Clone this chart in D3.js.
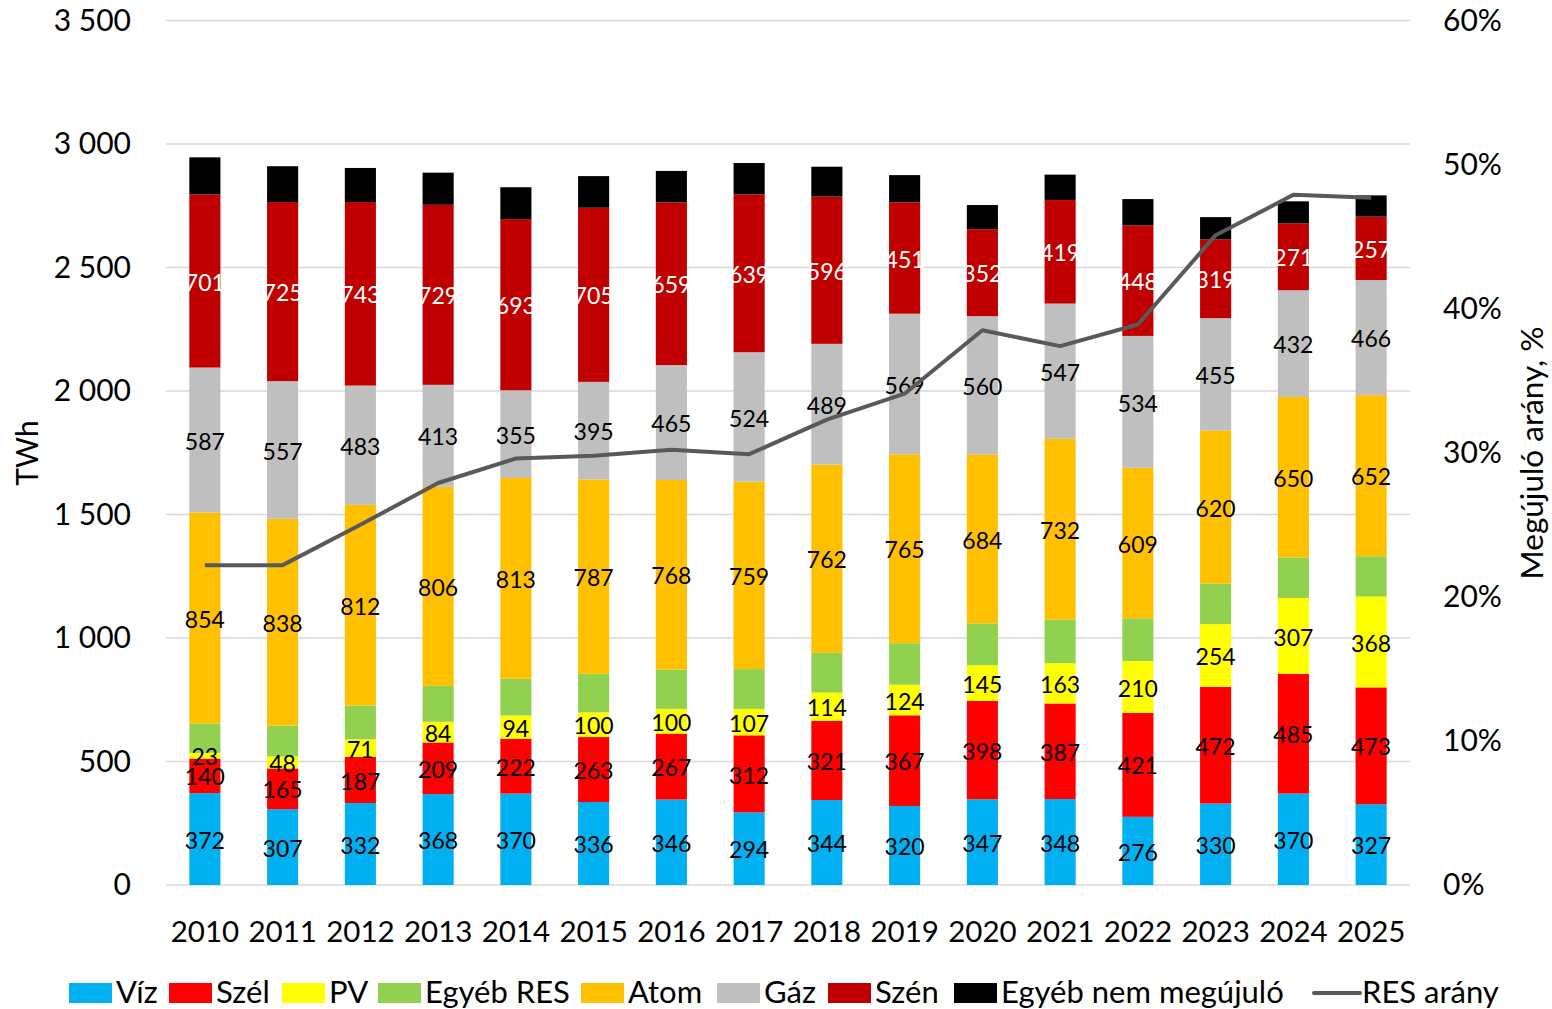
<!DOCTYPE html>
<html>
<head>
<meta charset="utf-8">
<script src="https://cdn.jsdelivr.net/npm/d3@7"></script>
<style>
  html, body { margin: 0; padding: 0; background: #fff; }
  svg { display: block; }
  text { font-family: Lato, "Open Sans", sans-serif; }
</style>
</head>
<body>
<svg id="chart" width="1552" height="1009"></svg>
<script>
const years = ["2010","2011","2012","2013","2014","2015","2016","2017","2018","2019","2020","2021","2022","2023","2024","2025"];
const viz      = [372,307,332,368,370,336,346,294,344,320,347,348,276,330,370,327];
const szel     = [140,165,187,209,222,263,267,312,321,367,398,387,421,472,485,473];
const pv       = [23,48,71,84,94,100,100,107,114,124,145,163,210,254,307,368];
const egyebRes = [119,125,137,145,149,156,159,161,161,168,169,177,173,164,164,163];
const atom     = [854,838,812,806,813,787,768,759,762,765,684,732,609,620,650,652];
const gaz      = [587,557,483,413,355,395,465,524,489,569,560,547,534,455,432,466];
const szen     = [701,725,743,729,693,705,659,639,596,451,352,419,448,319,271,257];
const egyebNem = [150,145,138,130,129,128,127,127,121,110,98,103,106,90,89,86];
const resShare = [22.2,22.2,25.0,27.9,29.6,29.8,30.2,29.9,32.3,34.1,38.5,37.4,38.9,45.1,47.9,47.7];

const leftTicks = [0,500,1000,1500,2000,2500,3000,3500];
const rightTicks = [0,10,20,30,40,50,60];

const series = [
  {name:"Víz", values:viz, color:"#00B0F0", label:"#000"},
  {name:"Szél", values:szel, color:"#FF0000", label:"#000"},
  {name:"PV", values:pv, color:"#FFFF00", label:"#000"},
  {name:"Egyéb RES", values:egyebRes, color:"#92D050", label:null},
  {name:"Atom", values:atom, color:"#FFC000", label:"#000"},
  {name:"Gáz", values:gaz, color:"#BFBFBF", label:"#000"},
  {name:"Szén", values:szen, color:"#C00000", label:"#fff"},
  {name:"Egyéb nem megújuló", values:egyebNem, color:"#000000", label:null}
];

const svg = d3.select("#chart");
const plot = {left:166, right:1410, top:20.5, bottom:885};

const x = d3.scaleBand().domain(years).range([plot.left, plot.right]).paddingInner(0.6).paddingOuter(0.3);
const y = d3.scaleLinear().domain([0,3500]).range([plot.bottom, plot.top]);
const y2 = d3.scaleLinear().domain([0,60]).range([plot.bottom, plot.top]);

// gridlines
svg.append("g").selectAll("line").data(leftTicks).join("line")
  .attr("x1", plot.left).attr("x2", plot.right)
  .attr("y1", d=>y(d)).attr("y2", d=>y(d))
  .attr("stroke", "#d9d9d9").attr("stroke-width", 1.5);

const fmt = d => d >= 1000 ? `${Math.floor(d/1000)} ${String(d%1000).padStart(3,"0")}` : String(d);

// left axis
const yAxis = d3.axisLeft(y).tickValues(leftTicks).tickFormat(fmt).tickSize(0).tickPadding(0);
const gy = svg.append("g").attr("transform", `translate(131,0)`).call(yAxis);
gy.select(".domain").remove();
gy.selectAll("text").attr("font-size", 30).attr("fill", "#000").attr("font-family", "Lato");

// right axis
const y2Axis = d3.axisRight(y2).tickValues(rightTicks).tickFormat(d => d + "%").tickSize(0).tickPadding(0);
const gy2 = svg.append("g").attr("transform", `translate(1443,0)`).call(y2Axis);
gy2.select(".domain").remove();
gy2.selectAll("text").attr("font-size", 30).attr("fill", "#000").attr("font-family", "Lato");

// x axis
const xAxis = d3.axisBottom(x).tickSize(0).tickPadding(0);
const gx = svg.append("g").attr("transform", `translate(0,${plot.bottom})`).call(xAxis);
gx.select(".domain").remove();
gx.selectAll("text").attr("font-size", 29.5).attr("fill", "#000").attr("font-family", "Lato")
  .attr("dy", null).attr("y", 57);

// stack
const table = years.map((yr,i) => {
  const o = {year: yr};
  series.forEach(s => o[s.name] = s.values[i]);
  return o;
});
const stack = d3.stack().keys(series.map(s=>s.name))(table);

const gBars = svg.append("g");
stack.forEach((layer, li) => {
  const s = series[li];
  gBars.append("g").selectAll("rect").data(layer).join("rect")
    .attr("x", d => x(d.data.year))
    .attr("width", x.bandwidth())
    .attr("y", d => y(d[1]))
    .attr("height", d => y(d[0]) - y(d[1]))
    .attr("fill", s.color);
});

// labels
const gLabels = svg.append("g");
stack.forEach((layer, li) => {
  const s = series[li];
  if (!s.label) return;
  gLabels.append("g").selectAll("text").data(layer).join("text")
    .attr("x", d => x(d.data.year) + x.bandwidth()/2)
    .attr("y", d => y((d[0]+d[1])/2))
    .attr("dy", "0.42em")
    .attr("text-anchor", "middle")
    .attr("font-size", 23)
    .attr("fill", s.label)
    .text(d => d[1]-d[0]);
});

// RES line
const line = d3.line().x((d,i) => x(years[i]) + x.bandwidth()/2).y(d => y2(d));
svg.append("path").datum(resShare)
  .attr("d", line)
  .attr("fill", "none")
  .attr("stroke", "#595959")
  .attr("stroke-width", 4)
  .attr("stroke-linejoin", "round");

// axis titles
svg.append("text").attr("transform", "translate(38,453) rotate(-90)")
  .attr("text-anchor", "middle").attr("font-size", 30).text("TWh");
svg.append("text").attr("transform", "translate(1543,453) rotate(-90)")
  .attr("text-anchor", "middle").attr("font-size", 31.5).text("Megújuló arány, %");

// legend
const legendX = [69,169,282,378,581,717,828,954];
const gLeg = svg.append("g");
series.forEach((s,i) => {
  gLeg.append("rect").attr("x", legendX[i]).attr("y", 983).attr("width", 43).attr("height", 20).attr("fill", s.color);
  gLeg.append("text").attr("x", legendX[i] + 47).attr("y", 1003).attr("font-size", 31).text(s.name);
});
gLeg.append("line").attr("x1", 1314).attr("x2", 1360).attr("y1", 993).attr("y2", 993)
  .attr("stroke", "#595959").attr("stroke-width", 4).attr("stroke-linecap", "round");
gLeg.append("text").attr("x", 1362).attr("y", 1003).attr("font-size", 31).text("RES arány");
</script>
</body>
</html>
